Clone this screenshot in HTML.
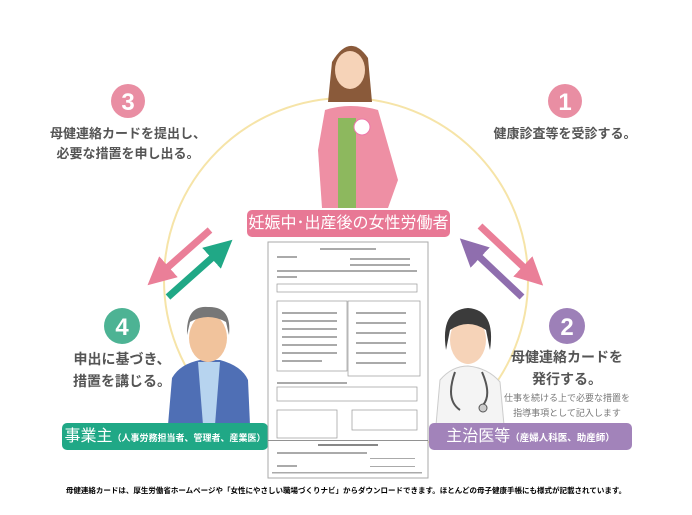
<!DOCTYPE html>
<html><head><meta charset="utf-8"><style>
html,body{margin:0;padding:0;background:#fff;}
body{width:692px;height:515px;overflow:hidden;position:relative;font-family:"Liberation Sans","Noto Sans CJK JP",sans-serif;}
.t{position:absolute;text-align:center;font-weight:bold;color:#555;white-space:nowrap;}
</style></head><body>
<svg width="692" height="515" style="position:absolute;left:0;top:0">
<defs>
<marker id="a" markerWidth="4" markerHeight="4" refX="2" refY="2" orient="auto" markerUnits="strokeWidth"><path d="M0,0L4,2L0,4z" fill="context-stroke"/></marker>
</defs>
<circle cx="346" cy="280" r="182" fill="none" stroke="#f6e4a8" stroke-width="2"/>
<circle cx="128" cy="101" r="17" fill="#e98ea3"/>
<text x="128" y="110" font-size="24" font-weight="bold" fill="#fff" text-anchor="middle" font-family="Liberation Sans">3</text>
<circle cx="565" cy="101" r="17" fill="#e98ea3"/>
<text x="565" y="110" font-size="24" font-weight="bold" fill="#fff" text-anchor="middle" font-family="Liberation Sans">1</text>
<circle cx="122" cy="326" r="18" fill="#4db394"/>
<text x="122" y="335" font-size="24" font-weight="bold" fill="#fff" text-anchor="middle" font-family="Liberation Sans">4</text>
<circle cx="567" cy="326" r="18" fill="#9d80b8"/>
<text x="567" y="335" font-size="24" font-weight="bold" fill="#fff" text-anchor="middle" font-family="Liberation Sans">2</text>
<line x1="210" y1="230" x2="158" y2="276" stroke="#ea7f98" stroke-width="7" marker-end="url(#a)"/>
<line x1="168" y1="297" x2="222" y2="249" stroke="#20a886" stroke-width="7" marker-end="url(#a)"/>
<line x1="480" y1="226" x2="533" y2="276" stroke="#ea7f98" stroke-width="7" marker-end="url(#a)"/>
<line x1="522" y1="297" x2="470" y2="248" stroke="#8f6eae" stroke-width="7" marker-end="url(#a)"/>
<!-- woman -->
<path d="M332 62 Q350 32 368 58 L372 102 L328 102Z" fill="#8a5a3a"/>
<ellipse cx="350" cy="70" rx="15" ry="19" fill="#f6d3b8"/>
<path d="M325 110 Q350 102 378 110 L398 180 L388 208 L322 208 L318 150Z" fill="#ee8fa4"/>
<rect x="338" y="118" width="18" height="90" fill="#8db85e"/>
<circle cx="362" cy="127" r="8" fill="#fff" stroke="#e7a"/>
<!-- man -->
<path d="M168 425 L172 378 Q180 364 200 360 L220 360 Q242 366 248 380 L250 425Z" fill="#4f6fb5"/>
<path d="M198 362 L220 362 L215 425 L203 425Z" fill="#b7d4ef"/>
<ellipse cx="208" cy="338" rx="19" ry="24" fill="#f1c39c"/>
<path d="M187 335 Q186 305 208 307 Q232 306 229 335 L226 322 Q208 312 190 322Z" fill="#777"/>
<!-- doctor -->
<path d="M436 425 L440 380 Q452 366 468 366 Q488 368 500 382 L504 425Z" fill="#f4f4f4" stroke="#ccc"/>
<ellipse cx="468" cy="340" rx="18" ry="24" fill="#f6d3b8"/>
<path d="M446 350 Q440 310 468 308 Q496 310 490 350 L486 330 Q468 318 450 330Z" fill="#3b3b3b"/>
<path d="M455 372 Q445 400 460 410 M482 372 Q492 395 483 405" stroke="#555" stroke-width="2" fill="none"/>
<circle cx="483" cy="408" r="4" fill="#ccc" stroke="#555"/>
<rect x="247" y="210" width="203" height="27" rx="5" fill="#e87895"/>
<rect x="62" y="423" width="206" height="27" rx="5" fill="#20a886"/>
<rect x="429" y="423" width="203" height="27" rx="5" fill="#a283ba"/>
<rect x="268" y="242" width="160" height="236" fill="#fff" stroke="#aaa"/>
<g fill="#aaa">
<rect x="320" y="248" width="56" height="2"/>
<rect x="277" y="256" width="20" height="2"/><rect x="350" y="258" width="60" height="2"/><rect x="350" y="264" width="60" height="2"/>
<rect x="277" y="270" width="140" height="2"/><rect x="277" y="276" width="20" height="2"/>
<rect x="277" y="284" width="140" height="8" fill="none" stroke="#999" stroke-width=".7"/>
<rect x="277" y="301" width="70" height="70" fill="none" stroke="#999" stroke-width=".7"/>
<rect x="348" y="301" width="72" height="75" fill="none" stroke="#999" stroke-width=".7"/>
<rect x="282" y="312" width="55" height="2"/><rect x="282" y="320" width="55" height="2"/><rect x="282" y="328" width="55" height="2"/><rect x="282" y="336" width="55" height="2"/><rect x="282" y="344" width="55" height="2"/><rect x="282" y="352" width="55" height="2"/><rect x="282" y="360" width="40" height="2"/>
<rect x="356" y="312" width="50" height="2"/><rect x="356" y="322" width="50" height="2"/><rect x="356" y="332" width="50" height="2"/><rect x="356" y="342" width="50" height="2"/><rect x="356" y="352" width="50" height="2"/><rect x="356" y="362" width="50" height="2"/>
<rect x="277" y="382" width="70" height="2"/>
<rect x="277" y="387" width="140" height="14" fill="none" stroke="#999" stroke-width=".7"/>
<rect x="277" y="410" width="60" height="28" fill="none" stroke="#999" stroke-width=".7"/>
<rect x="352" y="410" width="65" height="20" fill="none" stroke="#999" stroke-width=".7"/>
<rect x="268" y="440" width="160" height=".8" fill="#777"/>
<rect x="318" y="444" width="60" height="2" fill="#888"/>
<rect x="277" y="452" width="90" height="2"/><rect x="277" y="465" width="20" height="2"/><rect x="370" y="458" width="45" height="1"/><rect x="370" y="466" width="45" height="1"/>
<rect x="272" y="472" width="150" height="1.5"/>
</g>
</svg>
<div class="t" style="left:28px;top:124px;width:200px;font-size:13px;line-height:20px">母健連絡カードを提出し、<br>必要な措置を申し出る。</div>
<div class="t" style="left:465px;top:124px;width:200px;font-size:13px;line-height:20px">健康診査等を受診する。</div>
<div class="t" style="left:42px;top:348px;width:160px;font-size:14px;line-height:22px">申出に基づき、<br>措置を講じる。</div>
<div class="t" style="left:487px;top:346px;width:160px;font-size:14px;line-height:22px">母健連絡カードを<br>発行する。</div>
<div class="t" style="left:487px;top:391px;width:160px;font-size:9px;line-height:15px;color:#777;font-weight:normal">仕事を続ける上で必要な措置を<br>指導事項として記入します</div>
<div class="t" style="left:247px;top:213px;width:203px;font-size:16px;color:#fff;font-weight:normal;line-height:22px">妊娠中･出産後の女性労働者</div>
<div class="t" style="left:62px;top:426px;width:206px;color:#fff;font-weight:normal;line-height:22px"><span style="font-size:16px">事業主</span><span style="font-size:9px;font-weight:bold">（人事労務担当者、管理者、産業医）</span></div>
<div class="t" style="left:429px;top:426px;width:203px;color:#fff;font-weight:normal;line-height:22px"><span style="font-size:16px">主治医等</span><span style="font-size:9.5px;font-weight:bold">（産婦人科医、助産師）</span></div>
<div class="t" style="left:0;top:484px;width:692px;font-size:7.5px;color:#000;line-height:14px">母健連絡カードは、厚生労働省ホームページや「女性にやさしい職場づくりナビ」からダウンロードできます。ほとんどの母子健康手帳にも様式が記載されています。</div>
</body></html>
